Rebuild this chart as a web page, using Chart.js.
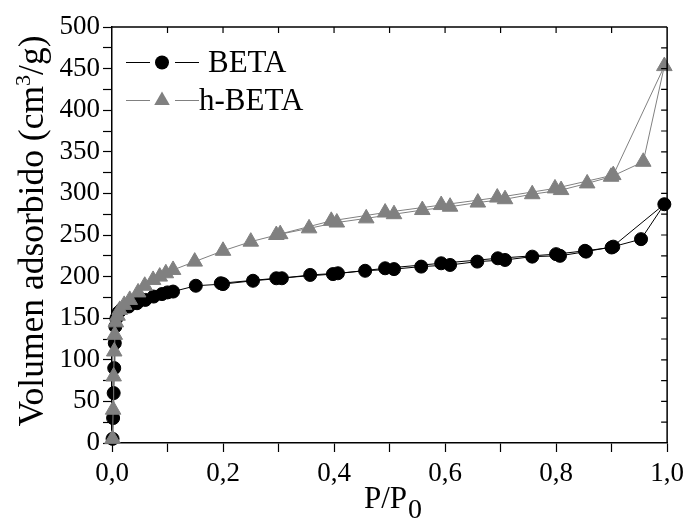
<!DOCTYPE html>
<html>
<head>
<meta charset="utf-8">
<script src="https://cdn.jsdelivr.net/npm/chart.js@4/dist/chart.umd.min.js"></script>
<style>
  html, body { margin: 0; padding: 0; background: #fff; }
  canvas { display: block; }
</style>
</head>
<body>
<canvas id="c" width="690" height="521"></canvas>
<script>
// ---- data ----
const seriesNames = ['BETA', 'h-BETA'];

// BETA: adsorption branch followed by desorption branch
const betaP = [0.001, 0.002, 0.003, 0.004, 0.005, 0.006, 0.008, 0.012, 0.018, 0.030, 0.045, 0.060, 0.075, 0.090, 0.100, 0.110,
               0.151, 0.200, 0.254, 0.306, 0.357, 0.407, 0.456, 0.508, 0.557, 0.609, 0.658, 0.708, 0.757, 0.807, 0.854, 0.903, 0.953, 0.995,
               0.900, 0.852, 0.800, 0.695, 0.593, 0.492, 0.398, 0.296, 0.196];
const betaV = [5, 30, 60, 90, 120, 140, 150, 157, 161, 164, 168, 172, 176, 179, 181, 182,
               189, 191, 195, 198, 202, 204, 207, 209, 212, 214, 218, 220, 224, 225, 230, 236, 245, 287,
               235, 231, 227, 222, 216, 210, 203, 198, 192];

// h-BETA: adsorption branch followed by desorption branch
const hbetaP = [0.001, 0.002, 0.003, 0.004, 0.005, 0.007, 0.010, 0.014, 0.022, 0.032, 0.047, 0.059, 0.074, 0.086, 0.097, 0.110,
                0.149, 0.200, 0.250, 0.303, 0.355, 0.405, 0.458, 0.508, 0.559, 0.609, 0.659, 0.708, 0.757, 0.809, 0.856, 0.899, 0.957, 0.995,
                0.903, 0.798, 0.694, 0.593, 0.492, 0.395, 0.296];
const hbetaV = [5, 40, 80, 110, 130, 145, 153, 160, 166, 172, 181, 189, 196, 200, 204, 208,
                218, 231, 242, 251, 258, 265, 270, 275, 280, 284, 289, 293, 299, 304, 312, 320, 338, 453,
                322, 306, 295, 286, 277, 267, 250];

const xTickLabels = ['0,0', '0,2', '0,4', '0,6', '0,8', '1,0'];
const yTickLabels = ['0', '50', '100', '150', '200', '250', '300', '350', '400', '450', '500'];
const xTitleParts = ['P/P', '0'];                       // P/P with subscript 0
const yTitleParts = ['Volumen adsorbido (cm', '3', '/g)']; // cm with superscript 3

// ---- helpers ----
const zip = (xs, ys) => xs.map((x, i) => ({ x: x, y: ys[i] }));
const FONT = "'Liberation Serif', 'Times New Roman', serif";
const GRAY = '#808080';

const frameLegendTitles = {
  id: 'frameLegendTitles',
  afterDraw(chart) {
    const ctx = chart.ctx;
    const { left, right, top, bottom } = chart.chartArea;
    const xs = chart.scales.x, ys = chart.scales.y;
    ctx.save();
    // top and right frame with inward ticks
    ctx.strokeStyle = '#000';
    ctx.lineWidth = 1.5;
    ctx.beginPath();
    ctx.moveTo(left, top); ctx.lineTo(right, top);
    ctx.moveTo(right, top); ctx.lineTo(right, bottom);
    ctx.stroke();
    ctx.lineWidth = 1.2;
    ctx.beginPath();
    for (let i = 1; i < 10; i++) {
      const px = xs.getPixelForValue(i / 10);
      ctx.moveTo(px, top); ctx.lineTo(px, top + 6);
    }
    for (let v = 25; v < 500; v += 25) {
      const py = ys.getPixelForValue(v);
      ctx.moveTo(right, py); ctx.lineTo(right - 6, py);
    }
    ctx.stroke();

    // legend
    const rows = [62, 100];
    const textX = [208, 199];
    chart.data.datasets.forEach((ds, i) => {
      const y = rows[i] + 0.5;
      ctx.strokeStyle = ds.borderColor;
      ctx.lineWidth = 1;
      ctx.beginPath();
      ctx.moveTo(126, y); ctx.lineTo(150, y);
      ctx.moveTo(175, y); ctx.lineTo(199, y);
      ctx.stroke();
      ctx.fillStyle = ds.pointBackgroundColor;
      ctx.beginPath();
      if (ds.pointStyle === 'triangle') {
        const r = ds.pointRadius;
        ctx.moveTo(162, y - r);
        ctx.lineTo(162 + 0.866 * r, y + 0.5 * r);
        ctx.lineTo(162 - 0.866 * r, y + 0.5 * r);
        ctx.closePath();
      } else {
        ctx.arc(162, y, ds.pointRadius + 0.5, 0, Math.PI * 2);
      }
      ctx.fill();
      ctx.fillStyle = '#000';
      ctx.font = '31px ' + FONT;
      ctx.textBaseline = 'middle';
      ctx.textAlign = 'left';
      ctx.fillText(ds.label, textX[i], y + 1);
    });

    // x-axis title: P/P0
    ctx.fillStyle = '#000';
    ctx.textBaseline = 'alphabetic';
    ctx.textAlign = 'left';
    ctx.font = '31px ' + FONT;
    const w1 = ctx.measureText(xTitleParts[0]).width;
    ctx.font = '28px ' + FONT;
    const w2 = ctx.measureText(xTitleParts[1]).width;
    const cx = (left + right) / 2 + 3;
    const x0 = cx - (w1 + w2) / 2;
    ctx.font = '31px ' + FONT;
    ctx.fillText(xTitleParts[0], x0, 508);
    ctx.font = '28px ' + FONT;
    ctx.fillText(xTitleParts[1], x0 + w1 + 1, 518);

    // y-axis title (rotated), superscript 3
    ctx.save();
    ctx.translate(43, 231);
    ctx.rotate(-Math.PI / 2);
    ctx.font = '35.5px ' + FONT;
    const a = ctx.measureText(yTitleParts[0]).width;
    const c = ctx.measureText(yTitleParts[2]).width;
    ctx.font = '22px ' + FONT;
    const b = ctx.measureText(yTitleParts[1]).width;
    let sx = -(a + b + c) / 2;
    ctx.font = '35.5px ' + FONT;
    ctx.fillText(yTitleParts[0], sx, 0);
    ctx.font = '22px ' + FONT;
    ctx.fillText(yTitleParts[1], sx + a, -13);
    ctx.font = '35.5px ' + FONT;
    ctx.fillText(yTitleParts[2], sx + a + b, 0);
    ctx.restore();

    ctx.restore();
  }
};

new Chart(document.getElementById('c'), {
  type: 'scatter',
  data: {
    datasets: [
      {
        label: seriesNames[0],
        data: zip(betaP, betaV),
        showLine: true,
        borderColor: '#000',
        borderWidth: 1,
        pointStyle: 'circle',
        pointRadius: 6.5,
        pointBackgroundColor: '#000',
        pointBorderColor: '#000',
        pointBorderWidth: 1,
        order: 1,
        clip: false
      },
      {
        label: seriesNames[1],
        data: zip(hbetaP, hbetaV),
        showLine: true,
        borderColor: GRAY,
        borderWidth: 1,
        pointStyle: 'triangle',
        pointRadius: 9,
        pointBackgroundColor: GRAY,
        pointBorderColor: GRAY,
        pointBorderWidth: 1,
        order: 0,
        clip: false
      }
    ]
  },
  options: {
    responsive: false,
    animation: false,
    devicePixelRatio: 1,
    layout: { padding: { top: 27, right: 21, left: 0, bottom: 0 } },
    plugins: { legend: { display: false }, tooltip: { enabled: false } },
    scales: {
      x: {
        type: 'linear',
        min: 0, max: 1,
        afterFit(s) { s.height = 78; },
        border: { display: true, color: '#000', width: 1.5 },
        grid: { drawOnChartArea: false, drawTicks: true, tickLength: 9, tickColor: '#000', tickWidth: 1.2 },
        ticks: {
          stepSize: 0.1,
          autoSkip: false,
          maxRotation: 0,
          padding: 6,
          color: '#000',
          font: { family: FONT, size: 27 },
          callback(v) {
            const i = Math.round(v * 10);
            return i % 2 === 0 ? xTickLabels[i / 2] : '';
          }
        },
        title: { display: false }
      },
      y: {
        type: 'linear',
        min: 0, max: 500,
        afterFit(s) { s.width = 112; },
        border: { display: true, color: '#000', width: 1.5 },
        grid: { drawOnChartArea: false, drawTicks: true, tickLength: 9, tickColor: '#000', tickWidth: 1.2 },
        ticks: {
          stepSize: 25,
          autoSkip: false,
          padding: 3,
          color: '#000',
          font: { family: FONT, size: 27 },
          callback(v) {
            return v % 50 === 0 ? yTickLabels[v / 50] : '';
          }
        },
        title: { display: false }
      }
    }
  },
  plugins: [frameLegendTitles]
});
</script>
</body>
</html>
